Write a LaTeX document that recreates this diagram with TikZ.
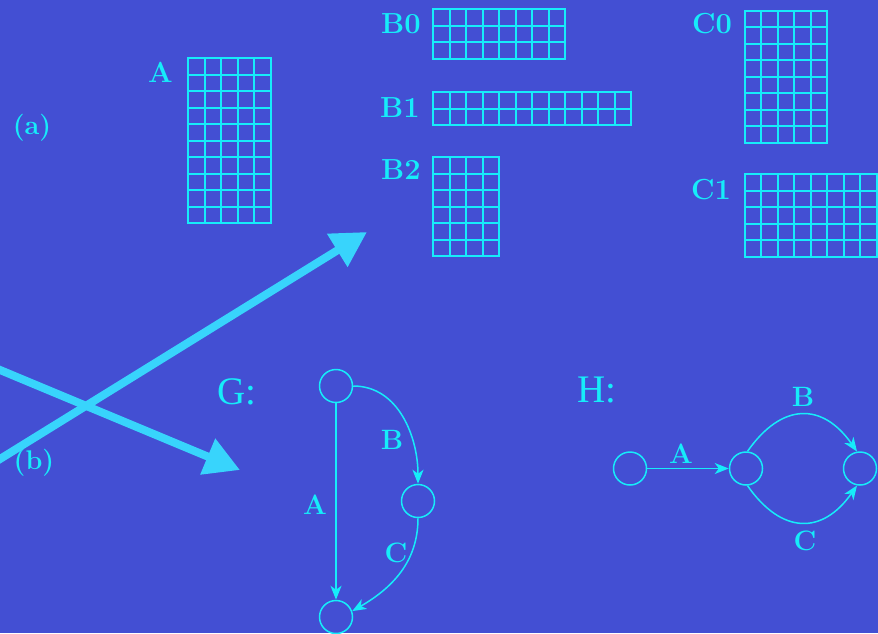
\documentclass[tikz,border=0pt]{standalone}
\usepackage{fontspec}
\newfontfamily\gfont{Liberation Serif}
\usetikzlibrary{arrows.meta}
\definecolor{bgblue}{RGB}{67,79,211}
\definecolor{lcyan}{RGB}{22,236,250}
\definecolor{arrblue}{RGB}{56,212,252}
\tikzset{
  gridbox/.style={draw=lcyan, line width=2pt, inner sep=0pt, outer sep=0pt, anchor=north west},
  gridline/.style={draw=lcyan, line width=2pt},
  lbl/.style={text=lcyan, font=\fontsize{29}{31}\selectfont\bfseries, inner sep=0pt},
  plbl/.style={text=lcyan, font=\fontsize{27}{29}\selectfont\bfseries, inner sep=0pt},
  glbl/.style={text=lcyan, font=\gfont\fontsize{39}{42}\selectfont, inner sep=0pt},
  elbl/.style={text=lcyan, font=\fontsize{28}{30}\selectfont\bfseries, inner sep=0pt},
  gnode/.style={circle, draw=lcyan, line width=1.5pt, minimum size=33pt, inner sep=0pt},
  gedge/.style={draw=lcyan, line width=1.5pt, -{Stealth[length=14pt, width=11pt, inset=4pt]}},
  bigarrow/.style={draw=arrblue, line width=8pt, -{Triangle[length=35pt, width=37pt]}}
}
\newcommand\cellgrid[5]{%
  \node[gridbox, minimum width=#4*16.5pt, minimum height=#5*16.5pt] (#1) at (#2,#3) {};
  \foreach \i in {1,...,#4} {\draw[gridline] ([xshift=\i*16.5pt]#1.north west) -- ([xshift=\i*16.5pt]#1.south west);}
  \foreach \j in {1,...,#5} {\draw[gridline] ([yshift=-\j*16.5pt]#1.north west) -- ([yshift=-\j*16.5pt]#1.north east);}
}
\begin{document}
\begin{tikzpicture}[x=1pt, y=-1pt]
\fill[bgblue] (0,0) rectangle (878,633);
\useasboundingbox (0,0) rectangle (878,633);
\clip (0,0) rectangle (878,633);

% grids
\cellgrid{gA}{188}{58}{5}{10}
\cellgrid{gB0}{433}{9}{8}{3}
\cellgrid{gB1}{433}{92}{12}{2}
\cellgrid{gB2}{433}{157}{4}{6}
\cellgrid{gC0}{744.5}{10.5}{5}{8}
\cellgrid{gC1}{744.5}{174}{8}{5}

\node[lbl] (lA) at (160.5,72) {A};
\node[lbl] (lB0) at (401,24) {B0};
\node[lbl] (lB1) at (400,107.5) {B1};
\node[lbl] (lB2) at (401,170) {B2};
\node[lbl] (lC0) at (712,24) {C0};
\node[lbl] (lC1) at (711,190) {C1};
\node[plbl] (la) at (32,128) {(a)};
\node[plbl] (lb) at (34,463) {(b)};

% big arrows
\coordinate (s1) at (-10,465.2);
\coordinate (e1) at (367,232);
\coordinate (s2) at (-10,365.8);
\coordinate (e2) at (240,470);
\draw[bigarrow] (s2) -- (e2);
\draw[bigarrow] (s1) -- (e1);

% graph G
\node[glbl] (lG) at (237,392) {G:};
\node[gnode] (g1) at (336,386) {};
\node[gnode] (g2) at (418,501) {};
\node[gnode] (g3) at (336,617) {};
\draw[gedge] (g1) -- (g3);
\draw[gedge] (g1.east) to[out=0, in=90] (g2.north);
\draw[gedge] (g2.south) to[out=-90, in=30] (g3.20);
\node[elbl] (eGA) at (315,505) {A};
\node[elbl] (eGB) at (392,440) {B};
\node[elbl] (eGC) at (396,553) {C};

% graph H
\node[glbl] (lH) at (597,390) {H:};
\node[gnode] (h1) at (630,468.5) {};
\node[gnode] (h2) at (746,468.5) {};
\node[gnode] (h3) at (860,468.5) {};
\draw[gedge] (h1) -- (h2);
\draw[gedge] (h2.85) to[out=55, in=125, looseness=1.4] (h3.100);
\draw[gedge] (h2.-85) to[out=-55, in=-125, looseness=1.4] (h3.-100);
\node[elbl] (eHA) at (681,454) {A};
\node[elbl] (eHB) at (803,397) {B};
\node[elbl] (eHC) at (805,541) {C};
\end{tikzpicture}
\end{document}
